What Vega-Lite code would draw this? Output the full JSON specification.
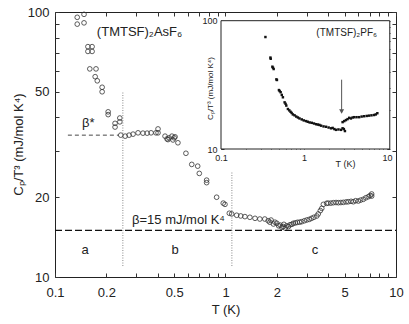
{
  "$schema": "https://vega.github.io/schema/vega-lite/v6.json",
  "width": 341,
  "height": 265,
  "autosize": {"type": "none"},
  "padding": {"left": 55, "top": 12, "right": 13, "bottom": 47},
  "config": {
    "view": {"stroke": "#222", "strokeWidth": 1},
    "font": "Liberation Sans",
    "axis": {"labelFont": "Liberation Sans", "titleFont": "Liberation Sans", "labelColor": "#222", "titleColor": "#222", "tickColor": "#333", "grid": false, "titleFontWeight": "normal", "domain": false}
  },
  "datasets": {
    "main": [
      {"T":0.135,"C":90},{"T":0.135,"C":95.5},{"T":0.148,"C":98},{"T":0.148,"C":91},
      {"T":0.156,"C":74},{"T":0.165,"C":74},{"T":0.156,"C":71},{"T":0.165,"C":71},
      {"T":0.160,"C":61},{"T":0.174,"C":61},{"T":0.172,"C":57},{"T":0.177,"C":55},{"T":0.189,"C":52},{"T":0.189,"C":50},
      {"T":0.205,"C":42},{"T":0.205,"C":41},
      {"T":0.225,"C":38},{"T":0.225,"C":36.8},{"T":0.24,"C":39.8},{"T":0.24,"C":38.5},
      {"T":0.243,"C":34.3},{"T":0.258,"C":34.0},{"T":0.272,"C":34.3},{"T":0.287,"C":34.6},{"T":0.307,"C":35.0},{"T":0.328,"C":34.9},{"T":0.347,"C":34.9},{"T":0.366,"C":35.0},{"T":0.391,"C":35.0},{"T":0.402,"C":36.2},{"T":0.402,"C":35.0},{"T":0.442,"C":34.0},{"T":0.454,"C":33.2},{"T":0.46,"C":33.0},{"T":0.467,"C":33.5},{"T":0.485,"C":34.0},{"T":0.492,"C":32.9},{"T":0.50,"C":33.5},{"T":0.506,"C":33.8},{"T":0.526,"C":32.1},
      {"T":0.586,"C":29.3},{"T":0.634,"C":26.6},{"T":0.687,"C":26.2},{"T":0.702,"C":24.6},{"T":0.775,"C":23.2},{"T":0.775,"C":22.7},{"T":0.887,"C":20.0},{"T":0.97,"C":19.0},{"T":0.993,"C":18.8},
      {"T":1.053,"C":17.4},{"T":1.087,"C":17.3},{"T":1.163,"C":17.1},{"T":1.228,"C":17.0},{"T":1.30,"C":16.9},{"T":1.39,"C":16.8},{"T":1.49,"C":16.65},{"T":1.59,"C":16.55},{"T":1.70,"C":16.55},{"T":1.78,"C":16.3},{"T":1.82,"C":16.1},{"T":1.85,"C":16.4},{"T":1.91,"C":15.85},{"T":1.95,"C":16.1},{"T":2.0,"C":15.95},{"T":2.05,"C":15.6},{"T":2.09,"C":15.7},{"T":2.14,"C":15.4},{"T":2.18,"C":15.5},{"T":2.2,"C":15.8},{"T":2.24,"C":15.3},{"T":2.29,"C":15.6},{"T":2.34,"C":15.5},{"T":2.39,"C":15.75},{"T":2.45,"C":15.8},{"T":2.5,"C":15.95},{"T":2.57,"C":16.0},{"T":2.64,"C":16.08},{"T":2.72,"C":16.1},{"T":2.8,"C":16.17},{"T":2.9,"C":16.3},{"T":3.0,"C":16.41},{"T":3.1,"C":16.5},{"T":3.2,"C":16.65},{"T":3.3,"C":16.8},{"T":3.43,"C":16.99},{"T":3.5,"C":17.3},{"T":3.6,"C":17.8},{"T":3.67,"C":18.16},{"T":3.75,"C":18.8},{"T":3.92,"C":18.97},{"T":4.0,"C":19.0},{"T":4.15,"C":19.0},{"T":4.29,"C":19.07},{"T":4.45,"C":19.1},{"T":4.59,"C":19.07},{"T":4.75,"C":19.1},{"T":4.91,"C":19.13},{"T":5.1,"C":19.2},{"T":5.25,"C":19.23},{"T":5.45,"C":19.3},{"T":5.62,"C":19.23},{"T":5.8,"C":19.4},{"T":6.01,"C":19.35},{"T":6.2,"C":19.5},{"T":6.43,"C":19.64},{"T":6.65,"C":19.9},{"T":6.88,"C":20.09},{"T":7.05,"C":20.3},{"T":7.2,"C":20.57},{"T":7.2,"C":20.2}
    ],
    "inset": [
      {"T":0.343,"C":74.6},{"T":0.394,"C":51.6},{"T":0.397,"C":50.5},{"T":0.416,"C":43.8},{"T":0.423,"C":43.0},{"T":0.431,"C":42.0},{"T":0.465,"C":34.9},{"T":0.472,"C":34.5},{"T":0.499,"C":28.8},{"T":0.509,"C":28.3},{"T":0.523,"C":27.7},{"T":0.54,"C":26.4},{"T":0.557,"C":25.3},{"T":0.584,"C":23.1},{"T":0.60,"C":22.5},{"T":0.612,"C":21.8},{"T":0.64,"C":20.5},{"T":0.665,"C":20.0},{"T":0.689,"C":19.5},{"T":0.71,"C":19.1},{"T":0.734,"C":18.6},{"T":0.77,"C":18.3},{"T":0.807,"C":17.9},{"T":0.845,"C":17.6},{"T":0.883,"C":17.3},{"T":0.94,"C":17.0},{"T":0.994,"C":16.7},{"T":1.06,"C":16.5},{"T":1.11,"C":16.3},{"T":1.17,"C":16.1},{"T":1.24,"C":16.0},{"T":1.32,"C":15.8},{"T":1.40,"C":15.6},{"T":1.47,"C":15.5},{"T":1.534,"C":15.4},{"T":1.607,"C":15.2},{"T":1.72,"C":15.0},{"T":1.845,"C":14.9},{"T":1.98,"C":14.7},{"T":2.117,"C":14.5},{"T":2.213,"C":14.6},{"T":2.32,"C":14.3},{"T":2.43,"C":14.1},{"T":2.6,"C":14.2},{"T":2.79,"C":14.1},{"T":2.917,"C":14.5},{"T":3.02,"C":14.3},{"T":3.113,"C":13.8},{"T":2.917,"C":16.2},{"T":3.055,"C":16.5},{"T":3.2,"C":16.8},{"T":3.35,"C":17.1},{"T":3.506,"C":17.5},{"T":3.675,"C":17.3},{"T":3.85,"C":17.6},{"T":4.025,"C":17.7},{"T":4.3,"C":17.7},{"T":4.62,"C":17.7},{"T":4.95,"C":17.9},{"T":5.304,"C":18.0},{"T":5.7,"C":18.1},{"T":6.08,"C":18.2},{"T":6.5,"C":18.3},{"T":6.98,"C":18.4},{"T":7.32,"C":18.6},{"T":7.65,"C":19.0}
    ]
  },
  "layer": [
    {
      "layer": [
        {
          "data": {"name": "main"},
          "mark": {"type": "point", "shape": "circle", "size": 22, "strokeWidth": 0.8, "color": "#333", "filled": false, "opacity": 1},
          "encoding": {
            "x": {"field": "T", "type": "quantitative", "scale": {"type": "log", "domain": [0.1, 10]},
              "axis": {"orient": "bottom", "title": "T (K)", "values": [0.1,0.2,0.3,0.4,0.5,0.6,0.7,0.8,0.9,1,2,3,4,5,6,7,8,9,10],
                "labelExpr": "indexof([0.1,0.2,0.5,1,2,5,10], datum.value) >= 0 ? format(datum.value, '~g') : ''",
                "tickSize": -4, "labelPadding": 13, "labelFontSize": 13, "titleFontSize": 13, "labelFlush": false, "labelOverlap": false, "titleY": 32, "titleBaseline": "middle"}},
            "y": {"field": "C", "type": "quantitative", "scale": {"type": "log", "domain": [10, 100]},
              "axis": {"orient": "left", "title": "Cₚ/T³ (mJ/mol K⁴)", "values": [10,20,30,40,50,60,70,80,90,100],
                "labelExpr": "indexof([10,20,50,100], datum.value) >= 0 ? format(datum.value, '~g') : ''",
                "tickSize": -4, "labelPadding": 10, "labelFontSize": 13, "titleFontSize": 13, "labelOverlap": false, "titleX": -37, "titleY": 132, "titleBaseline": "middle", "titleAlign": "center"}}
          }
        },
        {
          "data": {"values": [{"T": 0.1, "T2": 10, "C": 15}]},
          "mark": {"type": "rule", "strokeDash": [7, 3], "strokeWidth": 1.2, "color": "#111"},
          "encoding": {"x": {"field": "T", "type": "quantitative"}, "x2": {"field": "T2"}, "y": {"field": "C", "type": "quantitative"}}
        },
        {
          "data": {"values": [{"T": 0.119, "T2": 0.236, "C": 34.3}]},
          "mark": {"type": "rule", "strokeDash": [4, 3], "strokeWidth": 0.9, "color": "#333"},
          "encoding": {"x": {"field": "T", "type": "quantitative"}, "x2": {"field": "T2"}, "y": {"field": "C", "type": "quantitative"}}
        },
        {
          "data": {"values": [{"T": 0.25, "C": 11, "C2": 50}, {"T": 1.09, "C": 11, "C2": 25}]},
          "mark": {"type": "rule", "strokeDash": [1, 1.5], "strokeWidth": 1, "color": "#888"},
          "encoding": {"x": {"field": "T", "type": "quantitative"}, "y": {"field": "C", "type": "quantitative"}, "y2": {"field": "C2"}}
        },
        {
          "data": {"values": [{"T": 0.176, "C": 84, "label": "(TMTSF)₂AsF₆"}, {"T": 0.144, "C": 38.1, "label": "β*"}, {"T": 0.283, "C": 16.4, "label": "β=15 mJ/mol K⁴"}]},
          "mark": {"type": "text", "align": "left", "baseline": "middle", "fontSize": 13, "color": "#222"},
          "encoding": {"x": {"field": "T", "type": "quantitative"}, "y": {"field": "C", "type": "quantitative"}, "text": {"field": "label"}}
        },
        {
          "data": {"values": [{"T": 0.15, "C": 12.6, "label": "a"}, {"T": 0.506, "C": 12.6, "label": "b"}, {"T": 3.35, "C": 12.6, "label": "c"}]},
          "mark": {"type": "text", "align": "center", "baseline": "middle", "fontSize": 13, "color": "#222"},
          "encoding": {"x": {"field": "T", "type": "quantitative"}, "y": {"field": "C", "type": "quantitative"}, "text": {"field": "label"}}
        }
      ]
    },
    {
      "data": {"name": "main"},
      "mark": {"type": "point", "opacity": 0},
      "encoding": {
        "x": {"field": "T", "type": "quantitative", "scale": {"type": "log", "domain": [0.1, 10]},
          "axis": {"orient": "top", "title": null, "labels": false, "values": [0.1,0.2,0.3,0.4,0.5,0.6,0.7,0.8,0.9,1,2,3,4,5,6,7,8,9,10], "tickSize": -4}},
        "y": {"field": "C", "type": "quantitative", "scale": {"type": "log", "domain": [10, 100]},
          "axis": {"orient": "right", "title": null, "labels": false, "values": [10,20,30,40,50,60,70,80,90,100], "tickSize": -4}}
      }
    },
    {
      "layer": [
        {
          "data": {"values": [{"T": 0.1, "T2": 10.8, "C": 10, "C2": 100}]},
          "mark": {"type": "rect", "fill": "white", "stroke": "#222", "strokeWidth": 1},
          "encoding": {
            "x": {"field": "T", "type": "quantitative", "scale": {"type": "log", "domain": [0.1, 10], "range": [166, 332]},
              "axis": {"orient": "bottom", "offset": -128, "title": "T (K)", "values": [0.1,0.2,0.3,0.4,0.5,0.6,0.7,0.8,0.9,1,2,3,4,5,6,7,8,9,10],
                "labelExpr": "indexof([0.1,1,10], datum.value) >= 0 ? format(datum.value, '~g') : ''",
                "tickSize": -3, "labelPadding": 7, "labelFontSize": 9, "titleFontSize": 9, "labelFlush": false, "labelOverlap": false, "titleX": 290, "titleY": 14, "titleBaseline": "middle", "titleAlign": "center"}},
            "x2": {"field": "T2"},
            "y": {"field": "C", "type": "quantitative", "scale": {"type": "log", "domain": [10, 100], "range": [137, 8.7]},
              "axis": {"orient": "left", "offset": -166, "title": "Cₚ/T³ (mJ/mol K⁴)", "values": [10,20,30,40,50,60,70,80,90,100],
                "labelExpr": "indexof([10,100], datum.value) >= 0 ? format(datum.value, '~g') : ''",
                "tickSize": -3, "labelPadding": 7, "labelFontSize": 9, "titleFontSize": 8, "labelOverlap": false, "titleX": -11, "titleY": 76, "titleBaseline": "middle", "titleAlign": "center"}},
            "y2": {"field": "C2"}
          }
        },
        {
          "data": {"name": "inset"},
          "mark": {"type": "point", "shape": "square", "size": 6, "filled": true, "color": "#111", "opacity": 1},
          "encoding": {"x": {"field": "T", "type": "quantitative"}, "y": {"field": "C", "type": "quantitative"}}
        },
        {
          "data": {"values": [{"T": 2.84, "C": 34.7, "C2": 20.0}]},
          "mark": {"type": "rule", "strokeWidth": 1, "color": "#555"},
          "encoding": {"x": {"field": "T", "type": "quantitative"}, "y": {"field": "C", "type": "quantitative"}, "y2": {"field": "C2"}}
        },
        {
          "data": {"values": [{"T": 2.84, "C": 19.6}]},
          "mark": {"type": "point", "shape": "triangle-down", "size": 25, "filled": true, "color": "#555", "opacity": 1},
          "encoding": {"x": {"field": "T", "type": "quantitative"}, "y": {"field": "C", "type": "quantitative"}}
        },
        {
          "data": {"values": [{"T": 7.59, "C": 80.2, "label": "(TMTSF)₂PF₆"}]},
          "mark": {"type": "text", "align": "right", "baseline": "middle", "fontSize": 10, "color": "#222"},
          "encoding": {"x": {"field": "T", "type": "quantitative"}, "y": {"field": "C", "type": "quantitative"}, "text": {"field": "label"}}
        }
      ]
    },
    {
      "data": {"name": "inset"},
      "mark": {"type": "point", "opacity": 0},
      "encoding": {
        "x": {"field": "T", "type": "quantitative", "scale": {"type": "log", "domain": [0.1, 10], "range": [166, 332]},
          "axis": {"orient": "top", "offset": -8.7, "title": null, "labels": false, "values": [0.1,0.2,0.3,0.4,0.5,0.6,0.7,0.8,0.9,1,2,3,4,5,6,7,8,9,10], "tickSize": -3}},
        "y": {"field": "C", "type": "quantitative", "scale": {"type": "log", "domain": [10, 100], "range": [137, 8.7]},
          "axis": {"orient": "right", "offset": -6, "title": null, "labels": false, "values": [10,20,30,40,50,60,70,80,90,100], "tickSize": -3}}
      }
    }
  ],
  "resolve": {"scale": {"x": "independent", "y": "independent"}, "axis": {"x": "independent", "y": "independent"}}
}
